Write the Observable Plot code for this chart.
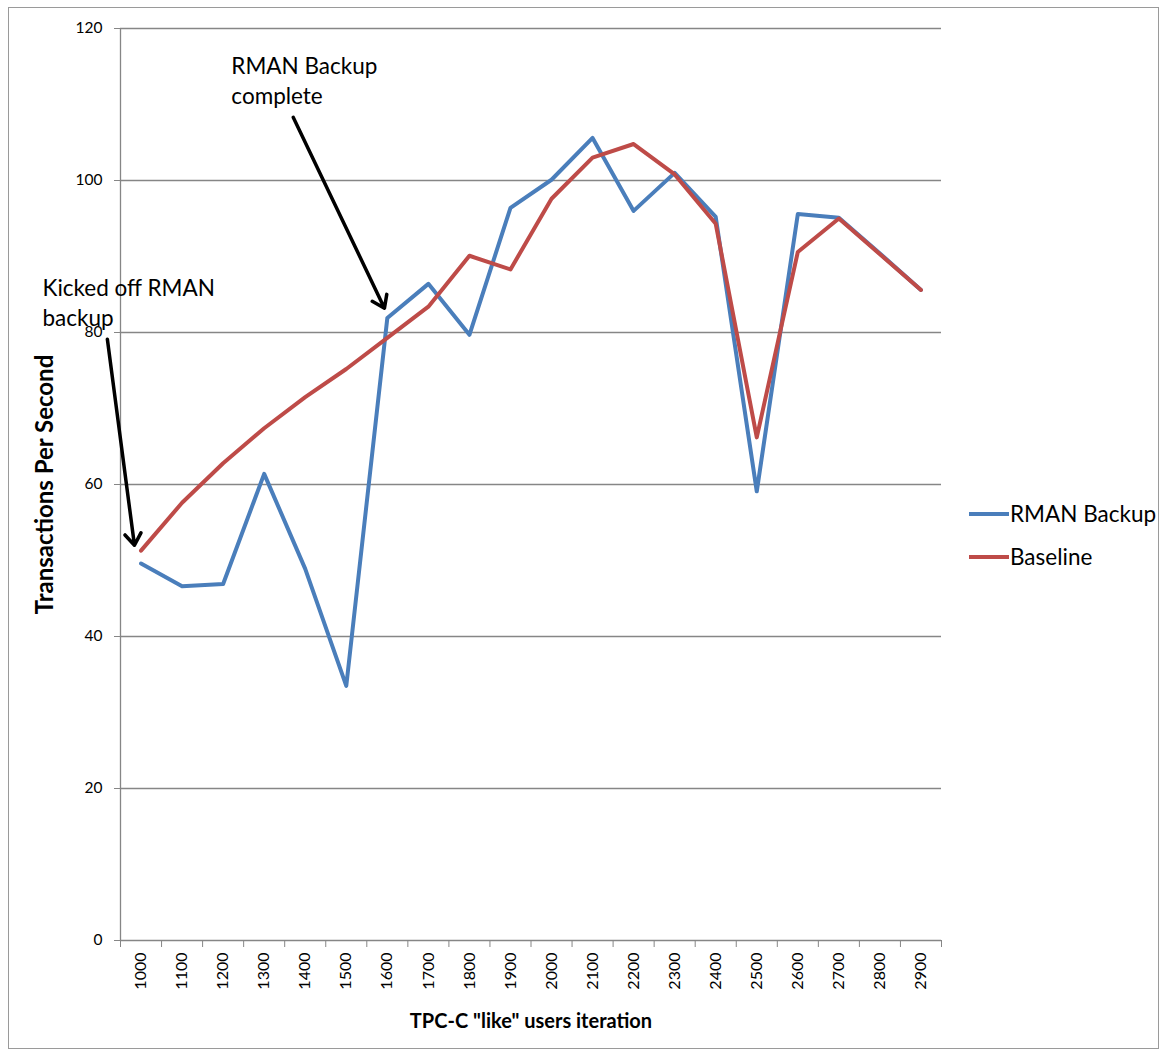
<!DOCTYPE html>
<html>
<head>
<meta charset="utf-8">
<script src="https://cdn.jsdelivr.net/npm/d3@7"></script>
<script src="https://cdn.jsdelivr.net/npm/@observablehq/plot@0.6"></script>
<style>
  html, body { margin: 0; padding: 0; background: #fff; }
  #chart { position: relative; width: 1168px; height: 1057px; font-family: Lato, "Open Sans", sans-serif; }
  #frame { position: absolute; left: 8px; top: 7px; width: 1151px; height: 1042px; border: 1px solid #9a9a9a; box-sizing: border-box; pointer-events: none; }
  #plot { position: absolute; left: 0; top: 0; }
  #legend { position: absolute; left: 969px; top: 492px; }
  .item { display: flex; align-items: center; height: 43px; font-size: 22.5px; color: #000; }
  .swatch { width: 40px; height: 4px; margin-right: 1px; }
</style>
</head>
<body>
<div id="chart">
  <div id="plot"></div>
  <div id="frame"></div>
  <div id="legend"></div>
</div>
<script>
// TPC-C style load test: transactions per second at each user-count iteration
const users = [1000, 1100, 1200, 1300, 1400, 1500, 1600, 1700, 1800, 1900,
               2000, 2100, 2200, 2300, 2400, 2500, 2600, 2700, 2800, 2900];
const rmanBackup = [49.6, 46.6, 46.9, 61.4, 48.9, 33.5, 81.9, 86.4, 79.7, 96.4,
                    100.1, 105.6, 96.0, 101.0, 95.2, 59.1, 95.6, 95.1, 90.4, 85.6];
const baseline = [51.3, 57.6, 62.8, 67.4, 71.5, 75.2, 79.3, 83.4, 90.1, 88.3,
                  97.6, 103.0, 104.8, 100.8, 94.3, 66.2, 90.6, 95.0, 90.3, 85.6];
const seriesNames = ["RMAN Backup", "Baseline"];
const seriesColors = ["#4a7ebb", "#be4b48"];
const yTicks = [0, 20, 40, 60, 80, 100, 120];

// Annotation callouts (positions in data units)
const notes = [
  {text: "Kicked off RMAN\nbackup", x: 760, y: 87.6},
  {text: "RMAN Backup\ncomplete", x: 1220, y: 116.8}
];
const pointers = [
  {x1: 918, y1: 79.1, x2: 984, y2: 52.0},
  {x1: 1371, y1: 108.3, x2: 1593, y2: 83.2}
];

const rows = seriesNames.flatMap((name, s) =>
  users.map((u, i) => ({users: u, tps: (s === 0 ? rmanBackup : baseline)[i], series: name}))
);
// category boundaries (ticks sit between categories)
const step = users[1] - users[0];
const boundaries = [...users.map(u => u - step / 2), users[users.length - 1] + step / 2];
const grey = "#868686";

const chart = Plot.plot({
  width: 1168,
  height: 1057,
  marginLeft: 120,
  marginRight: 227,
  marginTop: 28,
  marginBottom: 117,
  style: {fontFamily: "Lato, 'Open Sans', sans-serif", fontSize: "15px", color: "#000", background: "transparent"},
  x: {type: "linear", domain: [boundaries[0], boundaries[boundaries.length - 1]]},
  y: {domain: [0, 120]},
  color: {domain: seriesNames, range: seriesColors},
  marks: [
    Plot.gridY(yTicks.filter(d => d > 0), {stroke: grey, strokeOpacity: 1, strokeWidth: 1.3}),
    Plot.ruleY([0], {stroke: grey, strokeWidth: 1.3}),
    Plot.ruleX([boundaries[0]], {stroke: grey, strokeWidth: 1.3}),
    Plot.axisY({ticks: yTicks, tickSize: 6, tickPadding: 12, stroke: grey, fill: "#000", label: null, fontSize: 15.5}),
    Plot.axisX({ticks: boundaries, tickSize: 7, stroke: grey, fill: "none", label: null}),
    Plot.axisX({ticks: users, tickSize: 0, tickPadding: 12, tickRotate: -90, tickFormat: d => String(d), fill: "#000", label: null, fontSize: 16}),
    Plot.line(rows, {x: "users", y: "tps", stroke: "series", z: "series", strokeWidth: 4, strokeLinejoin: "round", strokeLinecap: "round"}),
    Plot.arrow(pointers, {x1: "x1", y1: "y1", x2: "x2", y2: "y2", stroke: "#000", strokeWidth: 3.5, headLength: 6, headAngle: 70}),
    Plot.text(notes, {x: "x", y: "y", text: "text", textAnchor: "start", lineAnchor: "top", lineHeight: 1.33, fontSize: 22.5, fill: "#000"}),
    Plot.text(["Transactions Per Second"], {frameAnchor: "left", textAnchor: "middle", dx: -75, rotate: -90, fontSize: 24, fontWeight: "bold", fill: "#000"}),
    Plot.text(['TPC-C "like" users iteration'], {frameAnchor: "bottom", textAnchor: "middle", dy: 87, fontSize: 20, fontWeight: "bold", fill: "#000"})
  ]
});
document.getElementById("plot").appendChild(chart);

// Legend to the right of the plot
const legend = document.getElementById("legend");
seriesNames.forEach((name, i) => {
  const item = document.createElement("div");
  item.className = "item";
  const sw = document.createElement("span");
  sw.className = "swatch";
  sw.style.background = seriesColors[i];
  const label = document.createElement("span");
  label.textContent = name;
  item.append(sw, label);
  legend.appendChild(item);
});
</script>
</body>
</html>
